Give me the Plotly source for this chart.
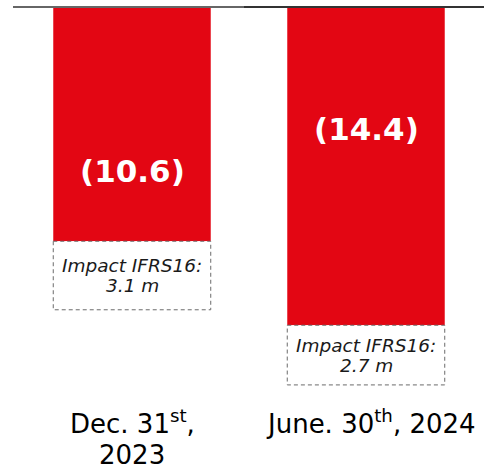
import plotly.graph_objects as go

# ---- data ----
category_line1 = ["Dec. 31<sup>st</sup>,", "June. 30<sup>th</sup>, 2024"]
category_line2 = ["2023", ""]
net_values = [-10.6, -14.4]
value_labels = ["(10.6)", "(14.4)"]
ifrs16_impact = [3.1, 2.7]
impact_title = "Impact IFRS16:"
impact_value_labels = ["3.1 m", "2.7 m"]
value_label_y = [-7.4, -5.5]

# ---- style ----
RED = "#E30613"
W, H = 484, 464
PX_PER_UNIT = 22.1
ZERO_PX = 7
BAR_W = 0.673
x_pos = list(range(len(category_line1)))

fig = go.Figure()
fig.add_trace(go.Bar(
    x=x_pos, y=net_values, width=BAR_W,
    marker=dict(color=RED, line=dict(width=0)),
    hoverinfo="skip", showlegend=False,
))

shapes = []
annotations = []
imp_font = dict(family="DejaVu Sans", size=18.5, color="#1a1a1a", style="italic")
cat_font = dict(family="DejaVu Sans", size=26, color="black")
for i, (v, imp) in enumerate(zip(net_values, ifrs16_impact)):
    shapes.append(dict(
        type="rect", xref="x", yref="y",
        x0=i - BAR_W / 2, x1=i + BAR_W / 2, y0=v, y1=v - imp,
        line=dict(color="#6b6b6b", width=1, dash="4px,3px"),
        fillcolor="white", layer="above",
    ))
    annotations.append(dict(
        x=i, y=v - imp / 2, xref="x", yref="y", text=impact_title,
        showarrow=False, yshift=10, font=imp_font,
    ))
    annotations.append(dict(
        x=i, y=v - imp / 2, xref="x", yref="y", text=impact_value_labels[i],
        showarrow=False, yshift=-10, font=imp_font,
    ))
    annotations.append(dict(
        x=i, y=value_label_y[i], xref="x", yref="y", text=value_labels[i],
        showarrow=False,
        font=dict(family="DejaVu Sans", size=31, color="white", weight="bold"),
    ))
    annotations.append(dict(
        x=i, y=1 - 403 / H, xref="x", yref="paper", text=category_line1[i],
        showarrow=False, yanchor="top", align="center", xshift=[0, 5][i],
        font=cat_font,
    ))
    if category_line2[i]:
        annotations.append(dict(
            x=i, y=1 - 438 / H, xref="x", yref="paper", text=category_line2[i],
            showarrow=False, yanchor="top", align="center", xshift=[0, 5][i],
            font=cat_font,
        ))

# top baseline
shapes.append(dict(type="line", xref="paper", yref="y", x0=13 / W, x1=250 / W, y0=0, y1=0,
                   line=dict(color="#666666", width=2), layer="above"))
shapes.append(dict(type="line", xref="paper", yref="y", x0=244 / W, x1=1, y0=0, y1=0,
                   line=dict(color="#333333", width=2), layer="above"))

x_left = -132 / 234
x_right = 1 + 118 / 234
y_top = ZERO_PX / PX_PER_UNIT
y_bottom = -(H - ZERO_PX) / PX_PER_UNIT

fig.update_layout(
    width=W, height=H,
    margin=dict(l=0, r=0, t=0, b=0),
    paper_bgcolor="white", plot_bgcolor="white",
    xaxis=dict(range=[x_left, x_right], visible=False, fixedrange=True),
    yaxis=dict(range=[y_bottom, y_top], visible=False, fixedrange=True),
    shapes=shapes, annotations=annotations,
    showlegend=False,
)

fig.write_html(
    "out.html",
    config={"displayModeBar": False},
    post_script="document.body.style.margin='0px';document.body.style.overflow='hidden';",
)
